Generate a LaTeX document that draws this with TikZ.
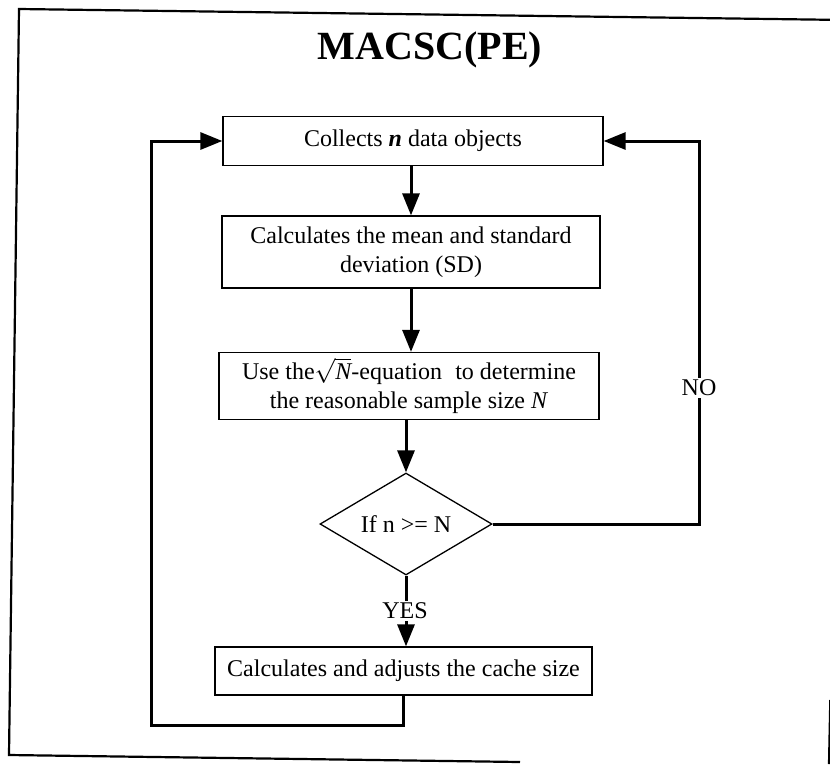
\documentclass[tikz,border=0pt]{standalone}
\usepackage{fontspec}
\setmainfont{Liberation Serif}
\usetikzlibrary{arrows.meta,shapes.geometric}
\begin{document}
\begin{tikzpicture}[x=1pt,y=-1pt,
  stepbox/.style={draw, line width=1.3pt, rectangle, inner sep=0pt, align=center,
                  font=\fontsize{24}{29}\selectfont},
  decision/.style={draw, line width=1.3pt, diamond, aspect=1.68, inner sep=0pt,
                   minimum width=172pt, minimum height=102pt,
                   font=\fontsize{24}{29}\selectfont},
  label/.style={inner sep=2pt, font=\fontsize{24}{29}\selectfont},
  flow/.style={line width=3pt, -{Triangle[length=22pt,width=17pt]}},
  plain/.style={line width=3pt},
  framing/.style={line width=2.2pt, line join=miter}]
\useasboundingbox (0,0) rectangle (830,764);
% outer frame, slightly tilted; its right side shows only near the bottom
\begin{scope}
\clip (0,0) rectangle (830,764);
\draw[framing] (846,20) -- (19,9) -- (9,755) -- (520,762);
\draw[framing] (830.3,700) -- (829,764);
\end{scope}
\node[font=\bfseries\fontsize{40}{42}\selectfont] (title) at (430,50) {MACSC(PE)};

% process steps
\node[stepbox, minimum width=380pt, minimum height=49pt] (collect) at (413,141)
  {Collects \textbf{\textit{n}} data objects};
\node[stepbox, minimum width=378pt, minimum height=72pt] (calc) at (411,252)
  {Calculates the mean and standard\\deviation (SD)};
\node[stepbox, minimum width=380pt, minimum height=67pt] (eqn) at (409,386)
  {Use the$\sqrt{\textit{N}}$-equation\hspace{0.3em} to determine\\the reasonable sample size \textit{N}};
\node[decision] (test) at (406,524) {If n >= N};
\node[label] (yes) at (405,611) {YES};
\node[stepbox, minimum width=377pt, minimum height=48pt] (cache) at (403.5,671)
  {Calculates and adjusts the cache size};
\node[label] (no) at (699,388) {NO};
\coordinate (lowleft) at (151,725);

% connectors
\draw[flow] (collect.south -| calc.north) -- (calc.north);
\draw[flow] (calc.south) -- (calc.south |- eqn.north);
\draw[flow] (eqn.south -| test.north) -- (test.north);
\draw[plain] (test.south) -- (yes.north -| test.south);
\draw[flow] (yes.south -| test.south) -- (test.south |- cache.north);
\draw[plain, line join=miter] (test.east) -| (no.south);
\draw[flow, line join=miter] (no.north) |- (collect.east);
\draw[flow, line join=miter] (cache.south) |- (lowleft) |- (collect.west);
\end{tikzpicture}
\end{document}
